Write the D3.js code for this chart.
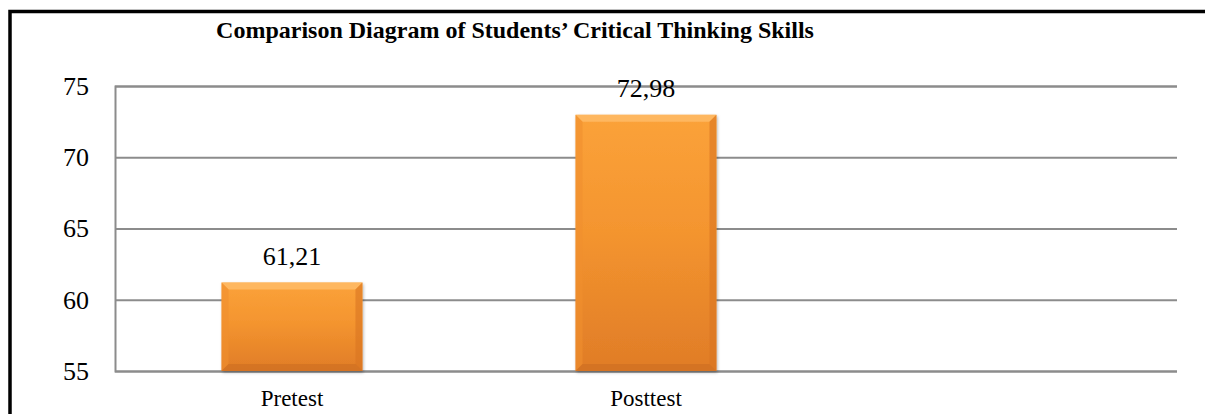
<!DOCTYPE html>
<html>
<head>
<meta charset="utf-8">
<script src="https://cdn.jsdelivr.net/npm/d3@7"></script>
<style>
  html, body { margin: 0; padding: 0; background: #fff; }
  svg { display: block; }
  text { font-family: "Liberation Serif", "Times New Roman", serif; fill: #000; }
</style>
</head>
<body>
<svg id="chart" width="1205" height="414"></svg>
<script>
const titleText = "Comparison Diagram of Students’ Critical Thinking Skills";
const categories = ["Pretest", "Posttest", ""];
const values = [61.21, 72.98];
const tickValues = [55, 60, 65, 70, 75];
const yDomain = [55, 75];

const svg = d3.select("#chart");
const W = 1205, H = 414;
const plot = { left: 115, right: 1177, top: 86, bottom: 371 };
const serif = "'Liberation Serif', 'Times New Roman', serif";

// outer border (extends past right/bottom edges)
svg.append("rect")
  .attr("x", 10).attr("y", 11.5)
  .attr("width", W + 20).attr("height", H + 20)
  .attr("fill", "none").attr("stroke", "#000").attr("stroke-width", 3.5);

// title
svg.append("text")
  .attr("x", 515).attr("y", 38)
  .attr("text-anchor", "middle")
  .style("font-family", serif)
  .attr("font-size", 24).attr("font-weight", "bold")
  .text(titleText);

const x = d3.scaleBand().domain(categories).range([plot.left, plot.right]).padding(0);
const y = d3.scaleLinear().domain(yDomain).range([plot.bottom, plot.top]);
const barW = x.bandwidth() * 0.398;

// gridlines + y axis
const yAxis = d3.axisLeft(y).tickValues(tickValues).tickSize(-(plot.right - plot.left)).tickPadding(26).tickFormat(d3.format("d"));
const gy = svg.append("g").attr("transform", `translate(${plot.left},0)`).call(yAxis);
gy.select(".domain").attr("stroke", "#8c8c8c").attr("stroke-width", 2);
gy.selectAll(".tick line").attr("stroke", "#8c8c8c").attr("stroke-width", 2);
gy.selectAll(".tick text").attr("font-size", 26).style("font-family", serif).attr("fill", "#000");

// gradients
const defs = svg.append("defs");
const grad = defs.append("linearGradient").attr("id", "barGrad").attr("x1", 0).attr("y1", 0).attr("x2", 0).attr("y2", 1);
grad.append("stop").attr("offset", "0%").attr("stop-color", "#fba23a");
grad.append("stop").attr("offset", "45%").attr("stop-color", "#f4952f");
grad.append("stop").attr("offset", "100%").attr("stop-color", "#e07c27");
const filt = defs.append("filter").attr("id", "shadow").attr("x", "-10%").attr("y", "-10%").attr("width", "130%").attr("height", "130%");
filt.append("feDropShadow").attr("dx", 1).attr("dy", 1.5).attr("stdDeviation", 1.5).attr("flood-color", "#000").attr("flood-opacity", 0.3);

const fmt = d3.formatLocale({ decimal: ",", thousands: ".", grouping: [3], currency: ["", ""] }).format(".2f");

const bars = svg.append("g").selectAll("g.bar").data(values).join("g").attr("class", "bar");
const b = 7;
bars.each(function(d, i) {
  const g = d3.select(this);
  const x0 = x(categories[i]) + (x.bandwidth() - barW) / 2;
  const x1 = x0 + barW;
  const y0 = y(d), y1 = y(yDomain[0]);
  g.append("rect").attr("x", x0).attr("y", y0).attr("width", barW).attr("height", y1 - y0)
    .attr("fill", "url(#barGrad)").attr("filter", "url(#shadow)");
  // bevels
  g.append("polygon").attr("points", [[x0, y0], [x1, y0], [x1 - b, y0 + b], [x0 + b, y0 + b]].join(" "))
    .attr("fill", "#ffc070").attr("opacity", 0.7);
  g.append("polygon").attr("points", [[x0, y0], [x0 + b, y0 + b], [x0 + b, y1 - b], [x0, y1]].join(" "))
    .attr("fill", "#f0902e").attr("opacity", 0.6);
  g.append("polygon").attr("points", [[x1, y0], [x1 - b, y0 + b], [x1 - b, y1 - b], [x1, y1]].join(" "))
    .attr("fill", "#d87422").attr("opacity", 0.6);
  g.append("polygon").attr("points", [[x0, y1], [x0 + b, y1 - b], [x1 - b, y1 - b], [x1, y1]].join(" "))
    .attr("fill", "#c86a1f").attr("opacity", 0.5);
  g.append("text").attr("x", (x0 + x1) / 2).attr("y", y0 - 18)
    .attr("text-anchor", "middle").style("font-family", serif).attr("font-size", 26).text(fmt(d));
});

// category labels
svg.append("g").selectAll("text.cat").data(categories.filter(c => c)).join("text")
  .attr("class", "cat")
  .attr("x", d => x(d) + x.bandwidth() / 2).attr("y", 406)
  .attr("text-anchor", "middle").style("font-family", serif).attr("font-size", 23).text(d => d);
</script>
</body>
</html>
